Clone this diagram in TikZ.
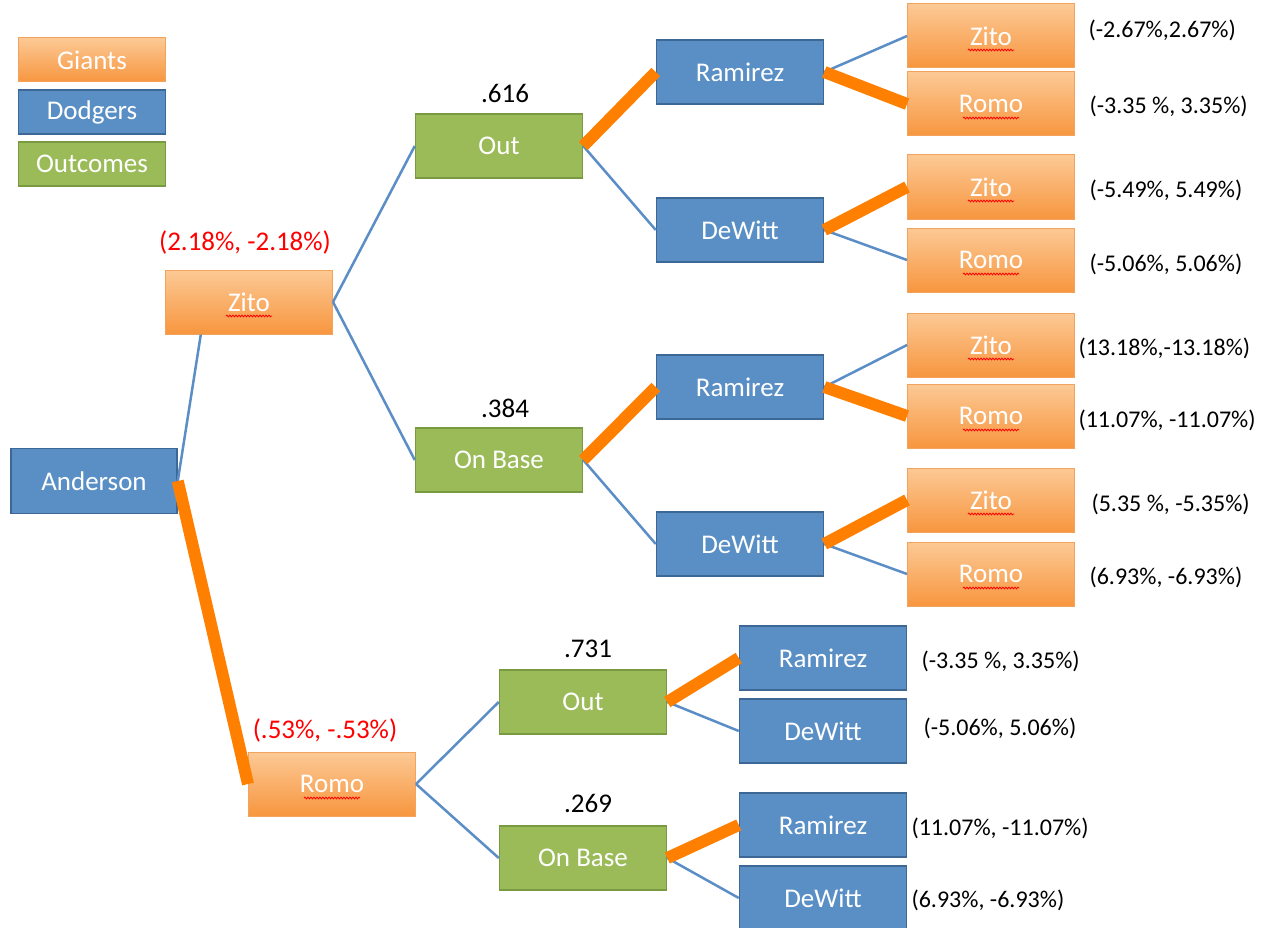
\documentclass[tikz,border=0pt]{standalone}
\usepackage{fontspec}
\setmainfont{Carlito}
\usetikzlibrary{positioning, decorations.pathmorphing}

\definecolor{giantstop}{HTML}{FCC995}
\definecolor{giantsbot}{HTML}{F7963F}
\definecolor{giantsline}{HTML}{F4A35C}
\definecolor{dodgersfill}{HTML}{5A8FC6}
\definecolor{dodgersline}{HTML}{3D6896}
\definecolor{outcomefill}{HTML}{9BBB59}
\definecolor{outcomeline}{HTML}{7A9A42}
\definecolor{linkblue}{HTML}{5B8EC6}
\definecolor{pickorange}{HTML}{FF7F00}

\begin{document}
\begin{tikzpicture}[x=1pt, y=-1pt,
    box/.style={rectangle, minimum width=167pt, minimum height=64pt, inner sep=0pt,
        text=white, font=\fontsize{27}{30}\selectfont},
    giants/.style={box, top color=giantstop, bottom color=giantsbot, draw=giantsline, line width=1pt},
    dodgers/.style={box, fill=dodgersfill, draw=dodgersline, line width=1.5pt},
    outcome/.style={box, fill=outcomefill, draw=outcomeline, line width=1.5pt},
    key/.style={minimum width=147pt, minimum height=44pt},
    % red spelling mark under a name, #1 = half its width
    marked/.style={path picture={
        \draw[red, line width=0.8pt, decorate, decoration={snake, amplitude=0.9pt, segment length=3pt}]
        ([xshift=-#1pt, yshift=-14pt]path picture bounding box.center) -- ++(2*#1,0);}},
    zito/.style={giants, marked=23},
    romo/.style={giants, marked=28},
    link/.style={draw=linkblue, line width=2.5pt},
    pick/.style={draw=pickorange, line width=12pt},
    score/.style={anchor=west, font=\fontsize{24}{28}\selectfont},
    prob/.style={font=\fontsize{27}{30}\selectfont},
    swing/.style={prob, text=red}]

    \fill[white] (0,0) rectangle (1265,928);
    \useasboundingbox (0,0) rectangle (1265,928);

    % legend
    \node[giants, key]   (KeyGiants)   at (92,60)  {Giants};
    \node[dodgers, key]  (KeyDodgers)  at (92,112) {Dodgers};
    \node[outcome, key]  (KeyOutcomes) at (92,164) {Outcomes};

    % pitchers against Anderson
    \node[dodgers, minimum width=166pt, minimum height=65pt] (Anderson) at (94,481) {Anderson};
    \node[zito]     (Zito)      at (249,302)  {Zito};
    \node[romo]     (Romo)      at (332,784)  {Romo};
    \node[swing]    (ZitoSwing) at (245,242)  {(2.18\%, -2.18\%)};
    \node[swing]    (RomoSwing) at (325,730)  {(.53\%, -.53\%)};

    % outcomes
    \node[outcome]  (ZitoOut)   at (499,146)  {Out};
    \node[outcome]  (ZitoBase)  at (499,460)  {On Base};
    \node[outcome]  (RomoOut)   at (583,702)  {Out};
    \node[outcome]  (RomoBase)  at (583,858)  {On Base};
    \node[prob]     (ZitoOutP)  at (505,93)   {.616};
    \node[prob]     (ZitoBaseP) at (505,408)  {.384};
    \node[prob]     (RomoOutP)  at (588,649)  {.731};
    \node[prob]     (RomoBaseP) at (588,803)  {.269};

    % next batters
    \node[dodgers]  (OutRamirez)      at (740,72)   {Ramirez};
    \node[dodgers]  (OutDeWitt)       at (740,230)  {DeWitt};
    \node[dodgers]  (BaseRamirez)     at (740,387)  {Ramirez};
    \node[dodgers]  (BaseDeWitt)      at (740,544)  {DeWitt};
    \node[dodgers]  (RomoOutRamirez)  at (823,658)  {Ramirez};
    \node[dodgers]  (RomoOutDeWitt)   at (823,731)  {DeWitt};
    \node[dodgers]  (RomoBaseRamirez) at (823,825)  {Ramirez};
    \node[dodgers]  (RomoBaseDeWitt)  at (823,898)  {DeWitt};

    % second pitcher
    \node[zito]     (OutRamirezZito)  at (991,36)   {Zito};
    \node[romo]     (OutRamirezRomo)  at (991,104)  {Romo};
    \node[zito]     (OutDeWittZito)   at (991,187)  {Zito};
    \node[romo]     (OutDeWittRomo)   at (991,260)  {Romo};
    \node[zito]     (BaseRamirezZito) at (991,345)  {Zito};
    \node[romo]     (BaseRamirezRomo) at (991,416)  {Romo};
    \node[zito]     (BaseDeWittZito)  at (991,500)  {Zito};
    \node[romo]     (BaseDeWittRomo)  at (991,574)  {Romo};

    % win probability changes
    \node[score] at (1085,30)  {(-2.67\%,2.67\%)};
    \node[score] at (1086,106) {(-3.35 \%, 3.35\%)};
    \node[score] at (1086,190) {(-5.49\%, 5.49\%)};
    \node[score] at (1086,264) {(-5.06\%, 5.06\%)};
    \node[score] at (1075,348) {(13.18\%,-13.18\%)};
    \node[score] at (1075,420) {(11.07\%, -11.07\%)};
    \node[score] at (1088,504) {(5.35 \%, -5.35\%)};
    \node[score] at (1086,577) {(6.93\%, -6.93\%)};
    \node[score] at (918,661)  {(-3.35 \%, 3.35\%)};
    \node[score] at (920,728)  {(-5.06\%, 5.06\%)};
    \node[score] at (908,828)  {(11.07\%, -11.07\%)};
    \node[score] at (908,900)  {(6.93\%, -6.93\%)};

    \path
    (Anderson.east)     edge[link] (Zito.214)
    (Zito.east)         edge[link] (ZitoOut.west)
                        edge[link] (ZitoBase.west)
    (Romo.east)         edge[link] (RomoOut.west)
                        edge[link] (RomoBase.west)
    (ZitoOut.east)      edge[link] (OutDeWitt.west)
    (ZitoBase.east)     edge[link] (BaseDeWitt.west)
    (RomoOut.east)      edge[link] (RomoOutDeWitt.west)
    (RomoBase.east)     edge[link] (RomoBaseDeWitt.west)
    (OutRamirez.east)   edge[link] (OutRamirezZito.west)
    (OutDeWitt.east)    edge[link] (OutDeWittRomo.west)
    (BaseRamirez.east)  edge[link] (BaseRamirezZito.west)
    (BaseDeWitt.east)   edge[link] (BaseDeWittRomo.west);

    \path
    (Anderson.east)     edge[pick] (Romo.west)
    (ZitoOut.east)      edge[pick] (OutRamirez.west)
    (ZitoBase.east)     edge[pick] (BaseRamirez.west)
    (RomoOut.east)      edge[pick] (RomoOutRamirez.west)
    (RomoBase.east)     edge[pick] (RomoBaseRamirez.west)
    (OutRamirez.east)   edge[pick] (OutRamirezRomo.west)
    (OutDeWitt.east)    edge[pick] (OutDeWittZito.west)
    (BaseRamirez.east)  edge[pick] (BaseRamirezRomo.west)
    (BaseDeWitt.east)   edge[pick] (BaseDeWittZito.west);

\end{tikzpicture}
\end{document}
